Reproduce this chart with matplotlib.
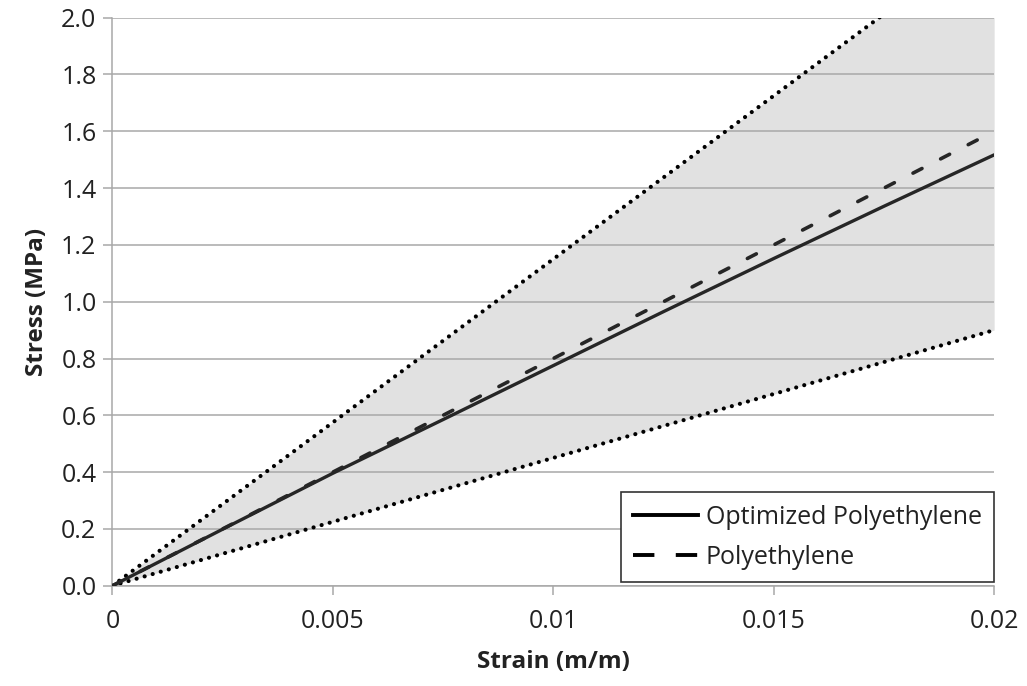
import matplotlib
matplotlib.use("Agg")
import matplotlib.pyplot as plt
from matplotlib.lines import Line2D

plt.rcParams['font.family'] = ['Open Sans', 'DejaVu Sans']

# Strain (m/m) sample points
strain = [0.0, 0.0025, 0.005, 0.0075, 0.01, 0.0125, 0.015, 0.0175, 0.02]
# Stress (MPa) for each material
optimized_pe = [0.0, 0.199, 0.396, 0.585, 0.775, 0.965, 1.152, 1.336, 1.517]
polyethylene = [0.0, 0.200, 0.400, 0.600, 0.800, 1.000, 1.200, 1.400, 1.600]
# Envelope bounds (MPa)
bound_strain = [0.0, 0.02]
upper_bound = [0.0, 2.30]
lower_bound = [0.0, 0.90]

x_ticks = [0.0, 0.005, 0.01, 0.015, 0.02]
x_tick_labels = ["0", "0.005", "0.01", "0.015", "0.02"]
y_ticks = [0.0, 0.2, 0.4, 0.6, 0.8, 1.0, 1.2, 1.4, 1.6, 1.8, 2.0]
y_tick_labels = ["0.0", "0.2", "0.4", "0.6", "0.8", "1.0", "1.2", "1.4", "1.6", "1.8", "2.0"]

fig = plt.figure(figsize=(10.27, 6.86), dpi=100)
ax = fig.add_axes([0.1095, 0.1462, 0.8585, 0.828])

line_col = "#262626"
grid_col = "#a8a8a8"

ax.fill_between(bound_strain, lower_bound, upper_bound, color="#e1e1e1",
                linewidth=0, zorder=0.3)
for bound in (upper_bound, lower_bound):
    ax.plot(bound_strain, bound, color="#000000", lw=3.0,
            linestyle=(0, (0.01, 2.0)), dash_capstyle="round", zorder=2)
ax.plot(strain, optimized_pe, color=line_col, lw=2.4, solid_capstyle="round",
        zorder=3)
ax.plot(strain, polyethylene, color=line_col, lw=2.6,
        linestyle=(0, (2.8, 5.8)), dash_capstyle="round", zorder=3)

ax.set_xlim(0, 0.02)
ax.set_ylim(0, 2.0)
ax.set_xticks(x_ticks)
ax.set_xticklabels(x_tick_labels)
ax.set_yticks(y_ticks)
ax.set_yticklabels(y_tick_labels)

ax.set_axisbelow(True)
ax.yaxis.grid(True, color=grid_col, lw=1.1)
ax.xaxis.grid(False)
for side in ("top", "right"):
    ax.spines[side].set_visible(False)
for side in ("left", "bottom"):
    ax.spines[side].set_color(grid_col)
    ax.spines[side].set_linewidth(1.1)

ax.tick_params(axis="both", direction="out", length=6.5, width=1.1,
               color=grid_col, labelsize=18, labelcolor="#222222")
ax.tick_params(axis="x", pad=10)
ax.tick_params(axis="y", pad=5)

ax.set_xlabel("Strain (m/m)", fontsize=17.5, fontweight="bold",
              color="#222222", labelpad=12)
ax.set_ylabel("Stress (MPa)", fontsize=17.5, fontweight="bold",
              color="#222222", labelpad=9)

handles = [
    Line2D([], [], color="black", lw=2.8),
    Line2D([], [], color="black", lw=2.8, linestyle=(0, (5.5, 5.5))),
]
leg = ax.legend(handles, ["Optimized Polyethylene", "Polyethylene"],
                loc="lower right", bbox_to_anchor=(1.0, 0.006),
                fontsize=18, frameon=True, fancybox=False,
                handlelength=2.6, handletextpad=0.3, borderpad=0.5,
                labelspacing=0.6, borderaxespad=0.0)
leg.get_frame().set_edgecolor("#333333")
leg.get_frame().set_linewidth(1.2)
leg.get_frame().set_facecolor("white")
leg.get_frame().set_alpha(1.0)
for t in leg.get_texts():
    t.set_color("#222222")

fig.savefig("out.png", dpi=100, facecolor="white")
